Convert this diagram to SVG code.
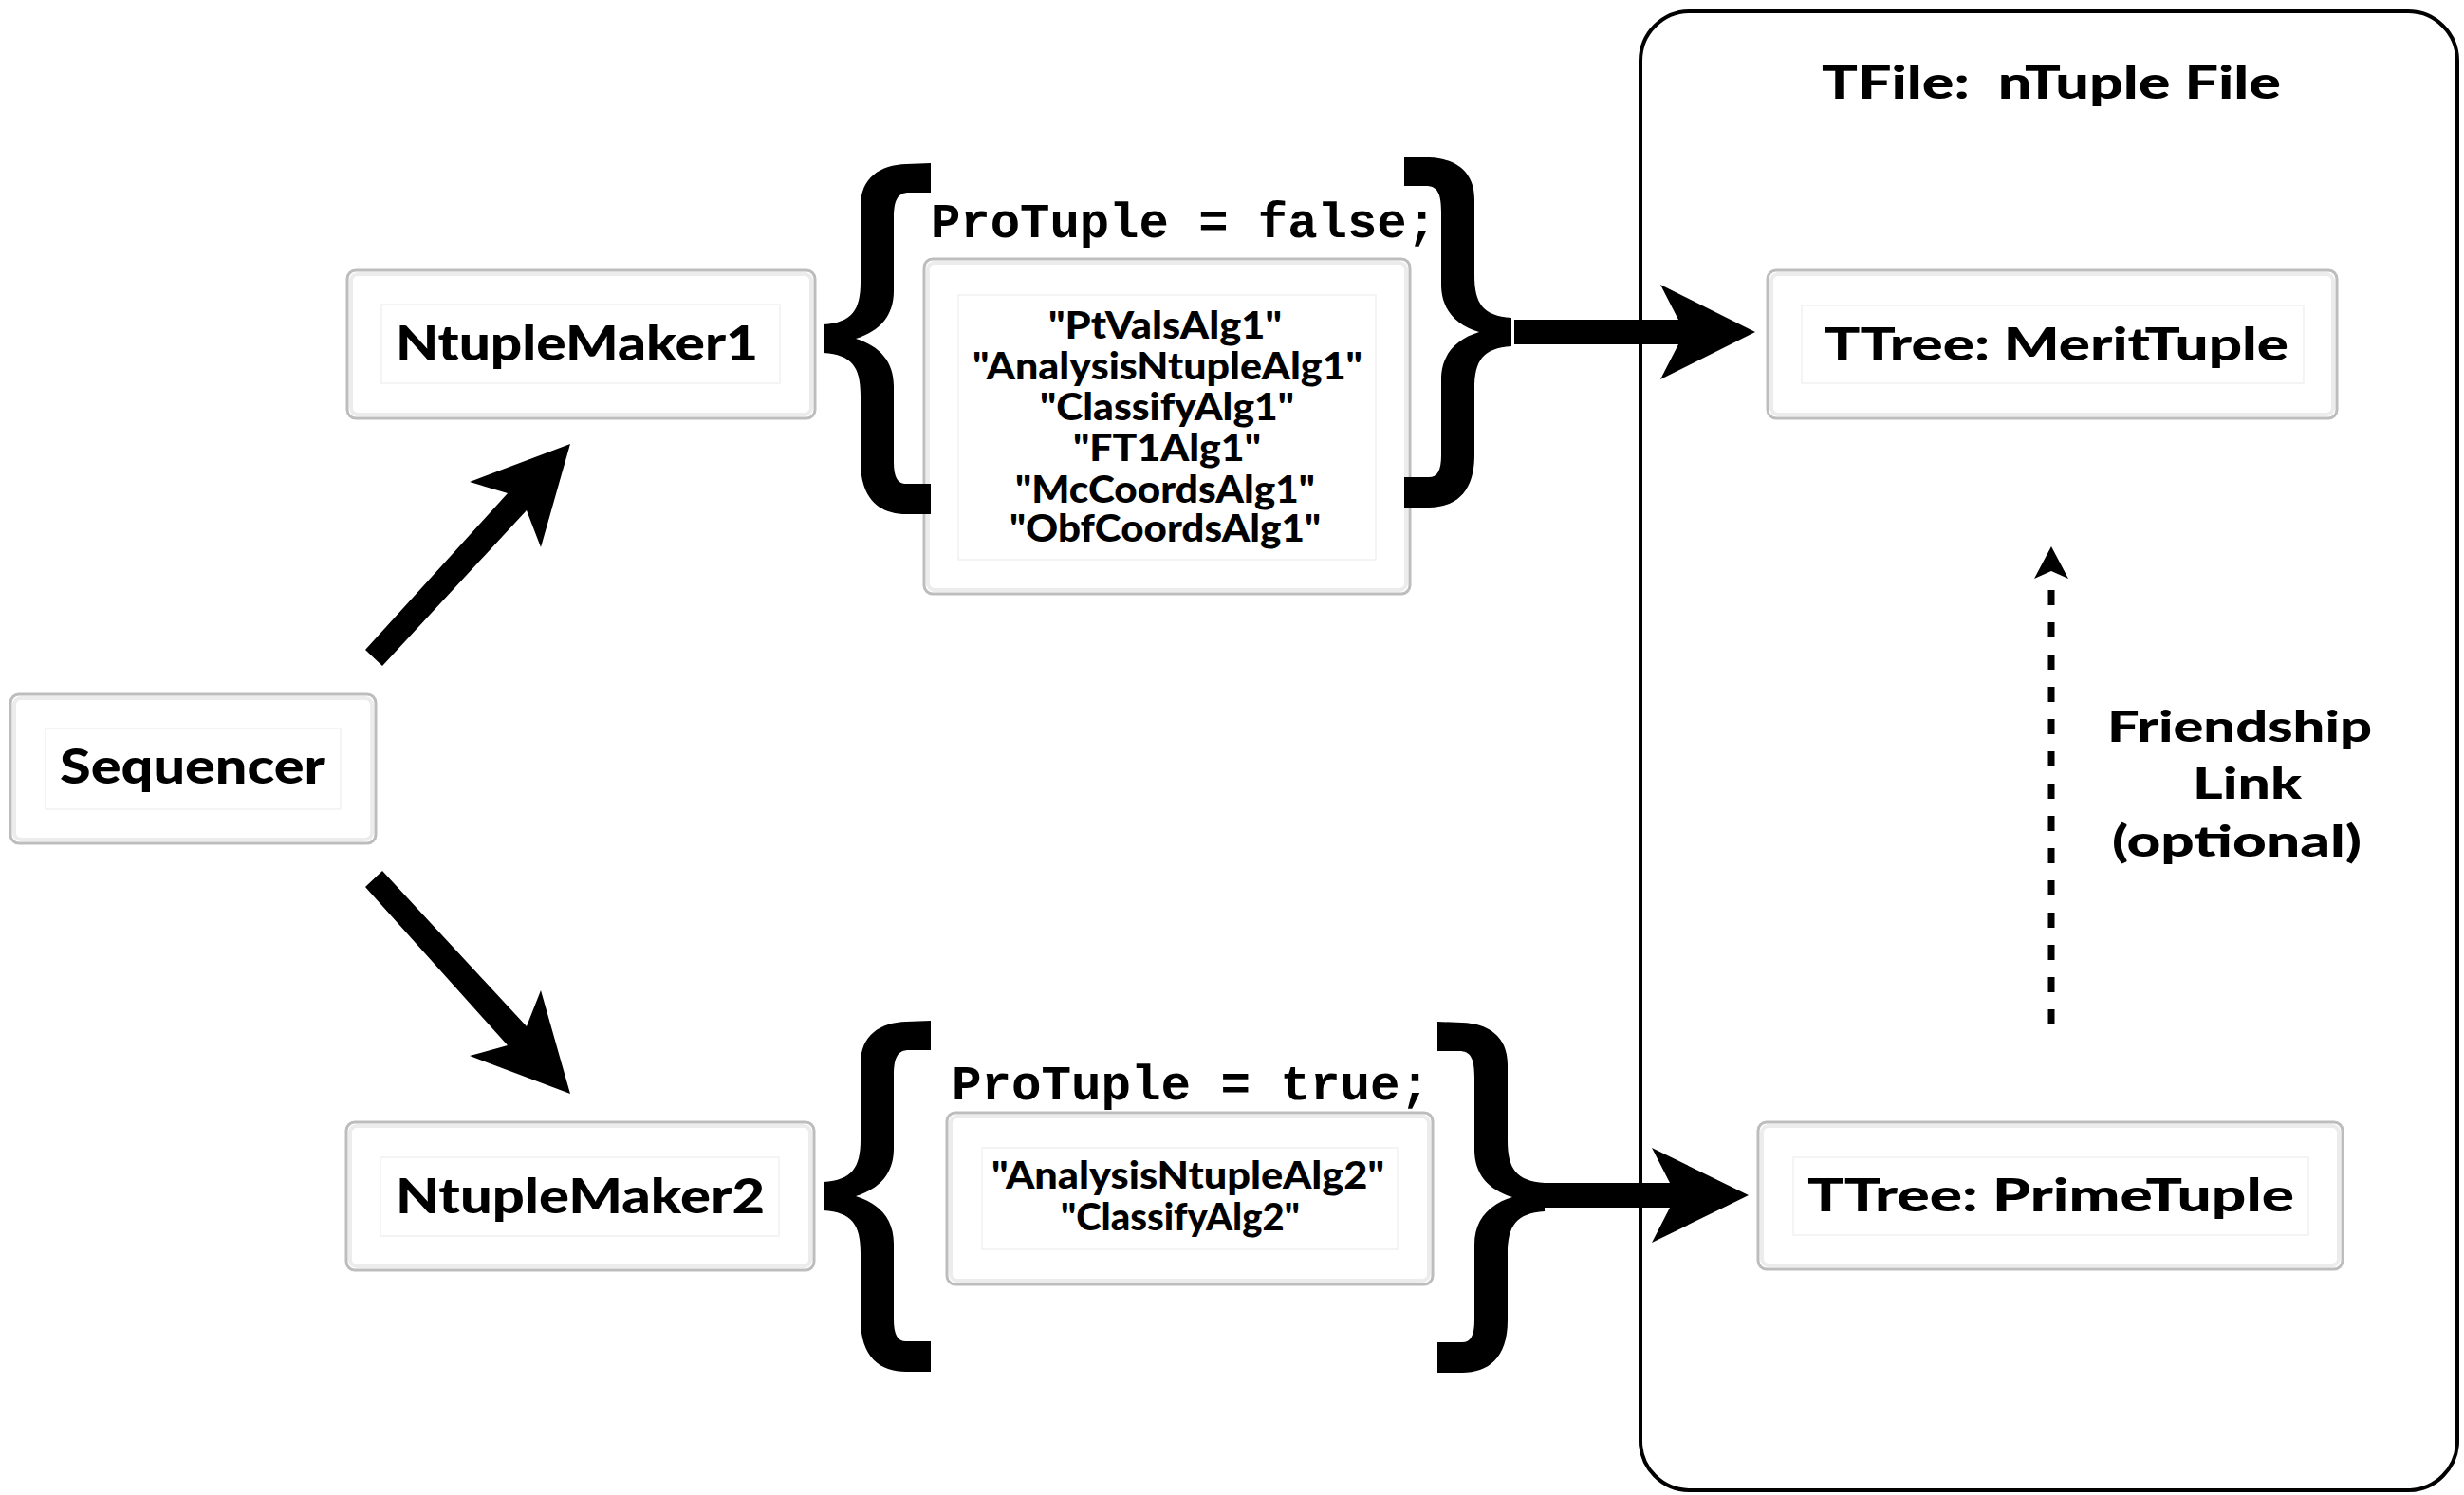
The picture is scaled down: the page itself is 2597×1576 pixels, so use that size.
<svg xmlns="http://www.w3.org/2000/svg" width="2597" height="1576" viewBox="0 0 2597 1576">
<style>
.box{fill:#fff;stroke:#bdbdbd;stroke-width:3}
.glow{fill:none;stroke:#ececec;stroke-width:4}
.inner{fill:#fff;stroke:#f1f1f1;stroke-width:1.5}
.lbl{font-family:Lato,"Open Sans","Liberation Sans",sans-serif;font-weight:900;fill:#000}
.code{font-family:"Liberation Mono","DejaVu Sans Mono",monospace;font-weight:700;fill:#000}
.brace{fill:#000}
.arrow{fill:#000}
</style>
<defs>
<path id="brace" d="M113 -185 L87 -184 C60 -183 39 -170 39 -140 L39 -60 C39 -30 30 -17 0 -15 L0 15 C30 17 39 30 39 60 L39 130 C39 170 60 185 87 185 L113 185 L113 153 L87 153 C78 153 74 146 74 130 L74 50 C74 25 60 8 34 0 C60 -8 74 -25 74 -50 L74 -127 C74 -146 78 -154 90 -154 L113 -154 Z"/>
</defs>
<rect width="2597" height="1576" fill="#fff"/>

<g id="tfile">
<rect x="1729" y="12" width="861" height="1559" rx="52" fill="none" stroke="#000" stroke-width="4"/>
<text class="lbl" x="1920" y="104" font-size="47" textLength="484" lengthAdjust="spacingAndGlyphs" xml:space="preserve">TFile:  nTuple File</text>
</g>

<g id="sequencer">
<rect class="box" x="11" y="732" width="385" height="157" rx="9"/>
<rect class="glow" x="15" y="736" width="377" height="149" rx="7"/>
<rect class="inner" x="48" y="768" width="311" height="85"/>
<text class="lbl" x="63" y="826" font-size="51" textLength="280" lengthAdjust="spacingAndGlyphs">Sequencer</text>
</g>

<g id="ntuplemaker1">
<rect class="box" x="366" y="285" width="493" height="156" rx="9"/>
<rect class="glow" x="370" y="289" width="485" height="148" rx="7"/>
<rect class="inner" x="402" y="321" width="420" height="83"/>
<text class="lbl" x="417" y="380" font-size="51" textLength="382" lengthAdjust="spacingAndGlyphs">NtupleMaker1</text>
</g>

<g id="ntuplemaker2">
<rect class="box" x="365" y="1183" width="493" height="156" rx="9"/>
<rect class="glow" x="369" y="1187" width="485" height="148" rx="7"/>
<rect class="inner" x="401" y="1220" width="420" height="83"/>
<text class="lbl" x="417" y="1279" font-size="51" textLength="389" lengthAdjust="spacingAndGlyphs">NtupleMaker2</text>
</g>

<g id="algs1">
<rect class="box" x="974" y="273" width="512" height="353" rx="9"/>
<rect class="glow" x="978" y="277" width="504" height="345" rx="7"/>
<rect class="inner" x="1010" y="311" width="440" height="279"/>
<text class="code" x="981" y="250" font-size="52" textLength="533" lengthAdjust="spacingAndGlyphs">ProTuple = false;</text>
<text class="lbl" font-size="39">
<tspan x="1105" y="357" textLength="246" lengthAdjust="spacingAndGlyphs">"PtValsAlg1"</tspan>
<tspan x="1025" y="400" textLength="411" lengthAdjust="spacingAndGlyphs">"AnalysisNtupleAlg1"</tspan>
<tspan x="1096" y="443" textLength="268" lengthAdjust="spacingAndGlyphs">"ClassifyAlg1"</tspan>
<tspan x="1131" y="486" textLength="198" lengthAdjust="spacingAndGlyphs">"FT1Alg1"</tspan>
<tspan x="1070" y="530" textLength="316" lengthAdjust="spacingAndGlyphs">"McCoordsAlg1"</tspan>
<tspan x="1064" y="571" textLength="328" lengthAdjust="spacingAndGlyphs">"ObfCoordsAlg1"</tspan>
</text>
<use href="#brace" class="brace" transform="translate(868,357)"/>
<use href="#brace" class="brace" transform="translate(1593,350) scale(-1,1)"/>
</g>

<g id="algs2">
<rect class="box" x="998" y="1173" width="512" height="181" rx="9"/>
<rect class="glow" x="1002" y="1177" width="504" height="173" rx="7"/>
<rect class="inner" x="1035" y="1210" width="438" height="107"/>
<text class="code" x="1003" y="1159" font-size="52" textLength="504" lengthAdjust="spacingAndGlyphs">ProTuple = true;</text>
<text class="lbl" font-size="39">
<tspan x="1045" y="1253" textLength="414" lengthAdjust="spacingAndGlyphs">"AnalysisNtupleAlg2"</tspan>
<tspan x="1118" y="1297" textLength="252" lengthAdjust="spacingAndGlyphs">"ClassifyAlg2"</tspan>
</text>
<use href="#brace" class="brace" transform="translate(868,1261)"/>
<use href="#brace" class="brace" transform="translate(1628,1262) scale(-1,1)"/>
</g>

<g id="merittuple">
<rect class="box" x="1863" y="285" width="600" height="156" rx="9"/>
<rect class="glow" x="1867" y="289" width="592" height="148" rx="7"/>
<rect class="inner" x="1899" y="322" width="529" height="82"/>
<text class="lbl" x="1923" y="380" font-size="48" textLength="489" lengthAdjust="spacingAndGlyphs">TTree: MeritTuple</text>
</g>

<g id="primetuple">
<rect class="box" x="1853" y="1183" width="616" height="155" rx="9"/>
<rect class="glow" x="1857" y="1187" width="608" height="147" rx="7"/>
<rect class="inner" x="1890" y="1220" width="543" height="82"/>
<text class="lbl" x="1905" y="1277" font-size="48" textLength="513" lengthAdjust="spacingAndGlyphs">TTree: PrimeTuple</text>
</g>

<g id="friendship-label">
<text class="lbl" font-size="46">
<tspan x="2221" y="782" textLength="279" lengthAdjust="spacingAndGlyphs">Friendship</tspan>
<tspan x="2311" y="842" textLength="115" lengthAdjust="spacingAndGlyphs">Link</tspan>
<tspan x="2226" y="903" textLength="263" lengthAdjust="spacingAndGlyphs">(optional)</tspan>
</text>
</g>

<g id="connectors">
<polygon class="arrow" points="385,685 535,520 495,508 601,468 570,577 555,538 403,702"/>
<polygon class="arrow" points="403,918 555,1082 570,1044 601,1153 495,1113 535,1102 385,935"/>
<polygon class="arrow" points="1596,337 1769,337 1750,300 1850,350 1750,400 1769,363 1596,363"/>
<polygon class="arrow" points="1628,1247 1760,1247 1741,1210 1843,1260 1741,1310 1760,1273 1628,1273"/>
<line x1="2162" y1="1080" x2="2162" y2="604" stroke="#000" stroke-width="7" stroke-dasharray="16 18"/>
<polygon class="arrow" points="2162,576 2180,610 2162,602 2144,610"/>
</g>
</svg>
